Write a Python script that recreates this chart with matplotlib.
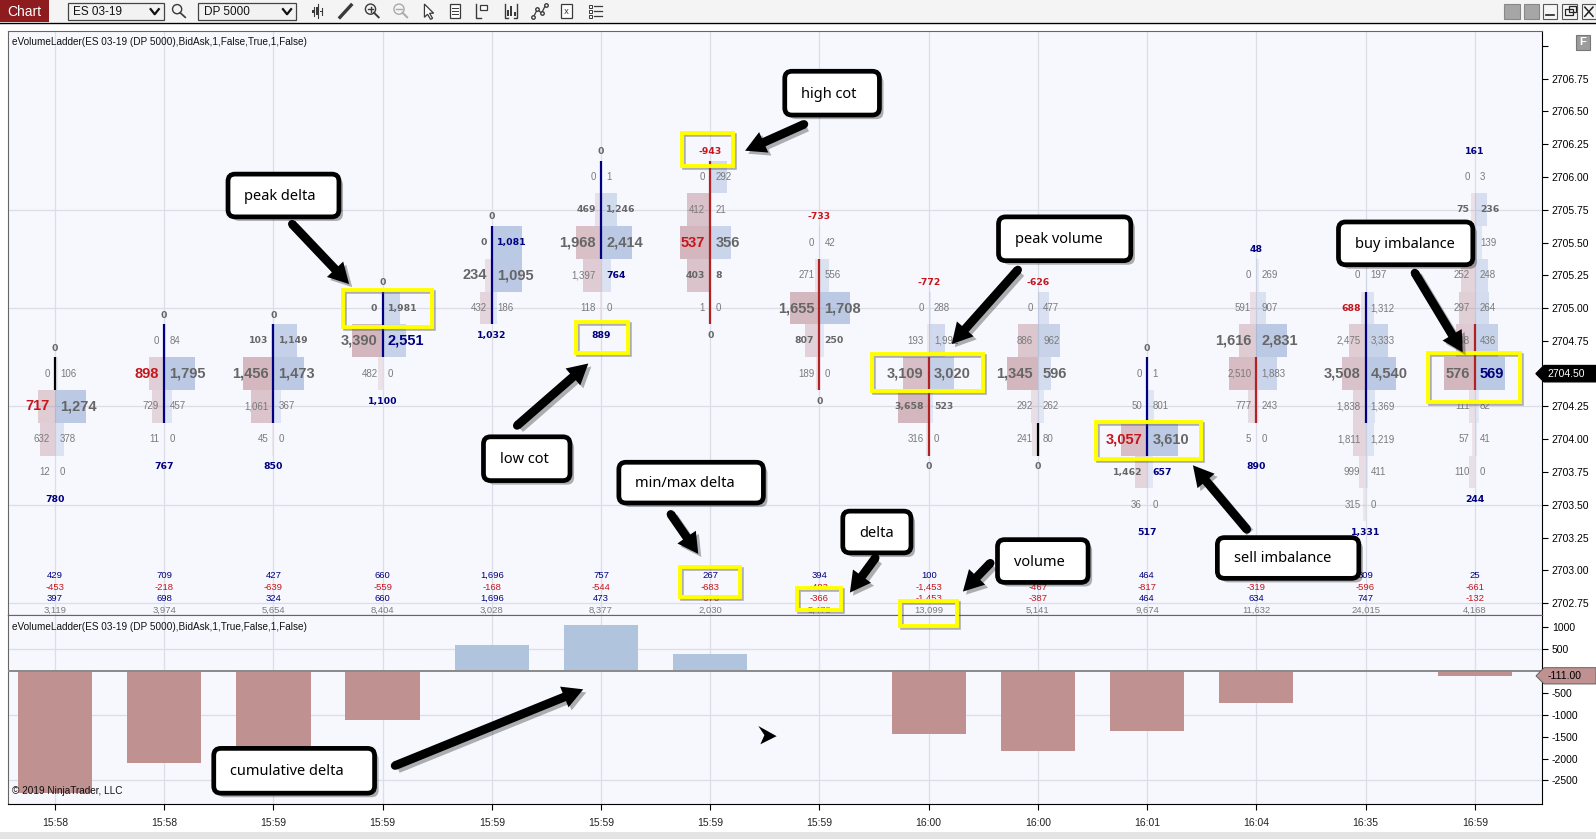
import matplotlib
matplotlib.use('Agg')
import matplotlib.pyplot as plt
import matplotlib.transforms as mtransforms
from matplotlib.patches import Rectangle, FancyBboxPatch, FancyArrowPatch, Polygon, Circle
import numpy as np

# layout grid of the screenshot (pixels)
W, H = 1568, 824

# ---------------- data ----------------
times = ['15:58', '15:58', '15:59', '15:59', '15:59', '15:59', '15:59',
         '15:59', '16:00', '16:00', '16:01', '16:04', '16:35', '16:59']
top_price = [2704.50, 2704.75, 2704.75, 2705.00, 2705.50, 2706.00, 2706.00,
             2705.50, 2705.00, 2705.00, 2704.50, 2705.25, 2705.25, 2706.00]
bids = [
    [0, 717, 632, 12],
    [0, 898, 729, 11],
    [103, 1456, 1061, 45],
    [0, 3390, 482],
    [0, 234, 432],
    [0, 469, 1968, 1397, 118],
    [0, 412, 537, 403, 1],
    [0, 271, 1655, 807, 189],
    [0, 193, 3109, 3658, 316],
    [0, 886, 1345, 292, 241],
    [0, 50, 3057, 1462, 36],
    [0, 591, 1616, 2510, 777, 5],
    [0, 688, 2475, 3508, 1838, 1811, 999, 315],
    [0, 75, 324, 252, 297, 348, 576, 111, 57, 110],
]
asks = [
    [106, 1274, 378, 0],
    [84, 1795, 457, 0],
    [1149, 1473, 367, 0],
    [1981, 2551, 0],
    [1081, 1095, 186],
    [1, 1246, 2414, 764, 0],
    [292, 21, 356, 8, 0],
    [42, 556, 1708, 250, 0],
    [288, 1992, 3020, 523, 0],
    [477, 962, 596, 262, 80],
    [1, 801, 3610, 657, 0],
    [269, 907, 2831, 1883, 243, 0],
    [197, 1312, 3333, 4540, 1369, 1219, 411, 0],
    [3, 236, 139, 248, 264, 436, 569, 82, 41, 0],
]
opens = [2704.50, 2704.25, 2704.25, 2704.75, 2705.00, 2705.50, 2706.00,
         2705.25, 2704.50, 2704.00, 2704.00, 2704.50, 2704.25, 2704.75]
closes = [2704.50, 2704.75, 2704.75, 2705.00, 2705.50, 2706.00, 2705.00,
          2704.50, 2704.00, 2704.00, 2704.50, 2704.25, 2705.00, 2704.50]
# None = hidden behind a callout in the reference
top_label = [0, 0, 0, 0, 0, 0, -943, -733, -772, -626, 0, 48, None, 161]
bottom_label = [780, 767, 850, 1100, 1032, 889, 0, 0, 0, 0, 517, 890, 1331, 244]

max_delta = [429, 709, 427, 660, 1696, 757, 267, 394, 100, 12, 464, 702, 809, 25]
min_delta = [-453, -218, -639, -559, -168, -544, -683, -483, -1453, -467, -817, -319, -596, -661]
bar_delta = [397, 698, 324, 660, 1696, 473, -676, -366, -1453, -387, 464, 634, 747, -132]
volume = [3119, 3974, 5654, 8404, 3028, 8377, 2030, 5478, 13099, 5141, 9674, 11632, 24015, 4168]

cum_delta = [-2793, -2095, -1771, -1111, 585, 1058, 382, 16, -1437, -1824, -1360, -726, 21, -111]

# cells highlighted in the ladder (column, row)
bid_red = {(0, 1), (1, 1), (6, 2), (10, 2), (12, 1)}
ask_blue = {(3, 1), (4, 0), (5, 3), (10, 3), (13, 6)}
bid_bold = {(2, 0), (3, 0), (4, 0), (5, 1), (6, 3), (7, 3), (8, 3), (10, 3), (12, 1), (13, 1)}
ask_bold = {(2, 0), (3, 0), (4, 0), (5, 1), (6, 3), (7, 3), (8, 3), (10, 3), (13, 1), (5, 3)}

# ---------------- style ----------------
TICK = 0.25
BG = '#f7f8fe'
GRID = '#dcdde7'
RED = '#c4161c'
NAVY = '#000080'
GRAY = '#666666'
LGRAY = '#7a7a7a'
BID_BAR = '#a8646e'
ASK_BAR = '#6f8fc4'
MAXW = 0.28
GAP = 0.047

fig = plt.figure(figsize=(15.96, 8.39), dpi=100)
fig.patch.set_facecolor('white')


def frac(x0, y0, x1, y1):
    return [x0 / W, 1 - y1 / H, (x1 - x0) / W, (y1 - y0) / H]


ax = fig.add_axes(frac(8, 30, 1515, 604))
ax2 = fig.add_axes(frac(8, 604, 1515, 790))
n = len(times)
xl = ((8 - 54) / 107.3, (1515 - 54) / 107.3)

for a in (ax, ax2):
    a.set_facecolor(BG)
    a.set_xlim(*xl)
    for c in range(n):
        a.axvline(c, color=GRID, lw=0.9, zorder=0)
    for s in ('left', 'top'):
        a.spines[s].set_color('#666666')
    for s in ('right', 'bottom'):
        a.spines[s].set_color('black')

# ---------------- price panel ----------------
ax.set_ylim(2702.66, 2707.116)
for g in [2702.75, 2703.50, 2704.25, 2705.00, 2705.75]:
    ax.axhline(g, color=GRID, lw=0.9, zorder=0)

yt = np.arange(2702.75, 2707.01, 0.25)
ax.set_yticks(yt)
ax.set_yticklabels(['' if (abs(v - 2707.0) < 1e-6 or abs(v - closes[-1]) < 1e-6) else f'{v:.2f}' for v in yt],
                   family='Liberation Sans', fontsize=7.5)
ax.yaxis.tick_right()
ax.tick_params(axis='y', direction='out', length=4, pad=3, color='black')
ax.tick_params(axis='x', bottom=False, labelbottom=False)


def txt_style(c, r, side, poc):
    if side == 'bid':
        color = RED if (c, r) in bid_red else GRAY
        bold = (c, r) in bid_bold
    else:
        color = NAVY if (c, r) in ask_blue else GRAY
        bold = (c, r) in ask_bold
    if r == poc:
        return dict(family='Liberation Sans', fontsize=10.5, fontweight='bold', color=color)
    if bold or color != GRAY:
        return dict(family='DejaVu Sans', fontsize=6.7, fontweight='bold', color=color)
    return dict(family='Liberation Sans', fontsize=7, color=LGRAY)


def lab_color(v):
    return NAVY if v > 0 else (RED if v < 0 else GRAY)


lab_font = dict(family='DejaVu Sans', fontsize=6.7, fontweight='bold')

for c in range(n):
    bc, ac = bids[c], asks[c]
    vmax = max(max(bc), max(ac))
    poc = int(np.argmax([b + a for b, a in zip(bc, ac)]))
    for r in range(len(bc)):
        p = top_price[c] - TICK * r
        b, a = bc[r], ac[r]
        if b:
            ax.barh(p, -MAXW * b / vmax, left=c, height=TICK, color=BID_BAR,
                    alpha=0.10 + 0.34 * b / vmax, lw=0, zorder=1)
        if a:
            ax.barh(p, MAXW * a / vmax, left=c, height=TICK, color=ASK_BAR,
                    alpha=0.10 + 0.34 * a / vmax, lw=0, zorder=1)
        ax.text(c - GAP, p, f'{b:,}', ha='right', va='center', zorder=4, **txt_style(c, r, 'bid', poc))
        ax.text(c + GAP, p, f'{a:,}', ha='left', va='center', zorder=4, **txt_style(c, r, 'ask', poc))
    # open/close body line
    hi, lo = max(opens[c], closes[c]), min(opens[c], closes[c])
    lc = NAVY if closes[c] > opens[c] else ('#b22222' if closes[c] < opens[c] else 'black')
    ax.plot([c, c], [hi + TICK / 2, lo - TICK / 2], color=lc, lw=1.6, zorder=3, solid_capstyle='butt')
    # labels above / below the ladder
    low_p = top_price[c] - TICK * (len(bc) - 1)
    if top_label[c] is not None:
        ax.text(c, top_price[c] + 0.195, f'{top_label[c]:,}', ha='center', va='center',
                color=lab_color(top_label[c]), zorder=4, **lab_font)
    ax.text(c, low_p - 0.21, f'{bottom_label[c]:,}', ha='center', va='center',
            color=lab_color(bottom_label[c]), zorder=4, **lab_font)

# statistics rows at the bottom of the price panel
tr = mtransforms.blended_transform_factory(ax.transData, ax.transAxes)
stat_font = dict(family='Liberation Sans', fontsize=6.8, ha='center', va='center', zorder=4)
for c in range(n):
    ax.text(c, 0.0679, f'{max_delta[c]:,}', transform=tr, color=NAVY, **stat_font)
    ax.text(c, 0.0470, f'{min_delta[c]:,}', transform=tr, color=RED, **stat_font)
    ax.text(c, 0.0279, f'{bar_delta[c]:,}', transform=tr,
            color=NAVY if bar_delta[c] >= 0 else RED, **stat_font)
    ax.text(c, 0.0087, f'{volume[c]:,}', transform=tr, color=LGRAY, **stat_font)

# last price marker
ty = ax.get_yaxis_transform()
pm = closes[-1]
hh = 8 / 32.2 * TICK
ax.add_patch(Polygon([(0.99602, pm), (1.0013, pm + hh), (1.0352, pm + hh), (1.0352, pm - hh), (1.0013, pm - hh)],
                     closed=True, transform=ty, clip_on=False, fc='black', ec='black', zorder=6))
ax.text(1.0036, pm, f'{pm:.2f}', transform=ty, color='white', family='Liberation Sans', fontsize=7.5,
        va='center', ha='left', zorder=7, clip_on=False)

# ---------------- cumulative delta panel ----------------
ax2.set_ylim(-3047, 1279)
for g in [500, -1000, -2500]:
    ax2.axhline(g, color=GRID, lw=0.9, zorder=0)
ax2.bar(range(n), cum_delta, width=0.68, color=['#bf9191' if v < 0 else '#b0c4de' for v in cum_delta],
        lw=0, zorder=2)
ax2.axhline(0, color='#8a8a8a', lw=1.4, zorder=3)
ax2.set_yticks([1000, 500, -500, -1000, -1500, -2000, -2500])
ax2.set_yticklabels(['1000', '500', '-500', '-1000', '-1500', '-2000', '-2500'],
                    family='Liberation Sans', fontsize=7.5)
ax2.yaxis.tick_right()
ax2.tick_params(axis='y', direction='out', length=4, pad=3)
ax2.set_xticks(range(n))
ax2.set_xticklabels(times, family='Liberation Sans', fontsize=7.5, color='#222222')
ax2.tick_params(axis='x', direction='out', length=4, pad=6)

ty2 = ax2.get_yaxis_transform()
cm = cum_delta[-1]
hh2 = 8 / 21.5 * 500
ax2.add_patch(Polygon([(0.99602, cm), (1.0013, cm + hh2), (1.0352, cm + hh2), (1.0352, cm - hh2), (1.0013, cm - hh2)],
                      closed=True, transform=ty2, clip_on=False, fc='#bf9191', ec='#555555', lw=0.6, zorder=6))
ax2.text(1.0036, cm, f'{cm:.2f}', transform=ty2, color='black', family='Liberation Sans', fontsize=7.5,
         va='center', ha='left', zorder=7, clip_on=False)

# ---------------- overlay: window chrome and callouts ----------------
ov = fig.add_axes([0, 0, 1, 1], zorder=10)
ov.set_xlim(0, W)
ov.set_ylim(H, 0)
ov.axis('off')

ov.add_patch(Rectangle((0, 0), W, 22, fc='#f4f4f4', ec='none'))
ov.plot([0, W], [22.5, 22.5], color='black', lw=1)
ov.add_patch(Rectangle((0, 0), 48, 22, fc='#8e1c1f', ec='none'))
ov.text(24, 11.5, 'Chart', color='white', family='Liberation Sans', fontsize=10, ha='center', va='center')
for x0, w, label in [(67, 94, 'ES 03-19'), (195, 96, 'DP 5000')]:
    ov.add_patch(Rectangle((x0, 3), w, 17, fc='#f2f2f2', ec='#444444', lw=0.9))
    ov.text(x0 + 5, 11.5, label, family='Liberation Sans', fontsize=8.5, va='center', color='#111111')
    xc = x0 + w - 9
    ov.plot([xc - 4, xc, xc + 4], [9, 14, 9], color='#111111', lw=1.6)
ic = '#3a3a3a'
ov.add_patch(Circle((174, 9), 4.5, fill=False, ec=ic, lw=1))
ov.plot([177, 182], [12.5, 17], color=ic, lw=1.2)
for dx, y0, y1 in [(-4, 7, 16), (0, 4, 18), (4, 8, 15)]:
    ov.plot([312 + dx] * 2, [y0, y1], color=ic, lw=0.8)
    ov.add_patch(Rectangle((312 + dx - 1.3, y0 + 3), 2.6, y1 - y0 - 6, fc=ic, ec='none'))
ov.plot([334, 345], [17, 5], color=ic, lw=2.4)
for xc, col, plus in [(364, ic, True), (392, '#aaaaaa', False)]:
    ov.add_patch(Circle((xc, 9), 5, fill=False, ec=col, lw=1))
    ov.plot([xc + 3.5, xc + 8], [12.5, 17], color=col, lw=1.4)
    ov.plot([xc - 2.5, xc + 2.5], [9, 9], color=col, lw=1)
    if plus:
        ov.plot([xc, xc], [6.5, 11.5], color=col, lw=1)
ov.add_patch(Polygon([(417, 4), (417, 17), (420, 14), (423, 19), (425, 18), (422, 13), (426, 13)],
                     closed=True, fc='white', ec=ic, lw=0.9))
ov.add_patch(Rectangle((442, 4), 10, 14, fc='white', ec=ic, lw=0.9))
for yy in (8, 11, 14):
    ov.plot([444, 450], [yy, yy], color=ic, lw=0.7)
ov.plot([468, 468, 473], [4, 18, 18], color=ic, lw=1)
ov.add_patch(Rectangle((472, 5), 6, 5, fc='white', ec=ic, lw=0.9))
ov.plot([496, 496, 499], [4, 18, 18], color=ic, lw=1)
ov.plot([508, 508, 505], [4, 18, 18], color=ic, lw=1)
for dx, hgt in [(0, 6), (3, 10), (6, 4)]:
    ov.add_patch(Rectangle((498.5 + dx, 16 - hgt), 2, hgt, fc=ic, ec='none'))
ov.plot([524, 528, 532, 536], [17, 9, 13, 5], color=ic, lw=0.9, marker='o', ms=2.5, mfc='white', mec=ic)
ov.add_patch(Rectangle((551, 4), 11, 14, fc='white', ec=ic, lw=0.9))
ov.text(556.5, 11, 'x', fontsize=6, ha='center', va='center', color=ic)
for yy in (6, 11, 16):
    ov.add_patch(Rectangle((579, yy - 1.5), 3, 3, fc='white', ec=ic, lw=0.7))
    ov.plot([584, 591], [yy, yy], color=ic, lw=0.9)

for x0 in (1478, 1497):
    ov.add_patch(Rectangle((x0, 4), 15, 15, fc='#a6a6a6', ec='#888888', lw=0.8))
for x0 in (1516, 1535, 1554):
    ov.add_patch(Rectangle((x0, 4), 14, 15, fc='#f5f5f5', ec='#555555', lw=0.8))
ov.plot([1519, 1527], [15, 15], color='#222222', lw=1.2)
ov.add_patch(Rectangle((1538, 9), 7, 6, fc='none', ec='#222222', lw=0.9))
ov.add_patch(Rectangle((1541, 6), 7, 6, fc='none', ec='#222222', lw=0.9))
ov.plot([1557, 1565], [7, 16], color='#222222', lw=1.1)
ov.plot([1557, 1565], [16, 7], color='#222222', lw=1.1)
ov.add_patch(Rectangle((1548, 34), 14, 15, fc='#9c9c9c', ec='#777777', lw=0.8))
ov.text(1555, 41.5, 'F', color='white', family='Liberation Sans', fontsize=8, fontweight='bold',
        ha='center', va='center')
ov.add_patch(Rectangle((0, 817), W, 7, fc='#e4e4e4', ec='none'))

ov.text(12, 41, 'eVolumeLadder(ES 03-19 (DP 5000),BidAsk,1,False,True,1,False)',
        family='Liberation Sans', fontsize=7.2, va='center', color='#111111')
ov.text(12, 616, 'eVolumeLadder(ES 03-19 (DP 5000),BidAsk,1,True,False,1,False)',
        family='Liberation Sans', fontsize=7.2, va='center', color='#111111')
ov.text(12, 777, '\u00a9 2019 NinjaTrader, LLC', family='Liberation Sans', fontsize=7.2,
        va='center', color='#111111')

# yellow highlight boxes
yellow_boxes = [(337, 285, 424, 321), (566, 316, 617, 347), (670, 131, 720, 163),
                (857, 348, 966, 384), (1077, 414, 1180, 451), (1403, 347, 1493, 395),
                (668, 557, 727, 586), (783, 577, 826, 599), (884, 590, 940, 615)]
for x0, y0, x1, y1 in yellow_boxes:
    ov.add_patch(Rectangle((x0 + 2, y0 + 2), x1 - x0, y1 - y0, fc='none', ec='#555555', lw=2.6, alpha=0.45))
    ov.add_patch(Rectangle((x0, y0), x1 - x0, y1 - y0, fc='none', ec='#ffff00', lw=2.8))


def arrow(x0, y0, x1, y1):
    st = 'simple,head_width=1.15,head_length=1.05,tail_width=0.45'
    ov.add_patch(FancyArrowPatch((x0 + 3, y0 + 3), (x1 + 3, y1 + 3), arrowstyle=st, mutation_scale=14,
                                 color='#000000', alpha=0.3, shrinkA=0, shrinkB=0, lw=0))
    ov.add_patch(FancyArrowPatch((x0, y0), (x1, y1), arrowstyle=st, mutation_scale=14,
                                 color='black', shrinkA=0, shrinkB=0, lw=0))
    ov.add_patch(Circle((x0, y0), 4, fc='black', ec='none'))


def callout(x0, y0, x1, y1, text):
    ov.add_patch(FancyBboxPatch((x0 + 4, y0 + 4), x1 - x0, y1 - y0, boxstyle='round,pad=0,rounding_size=7',
                                fc='black', ec='none', alpha=0.3))
    ov.add_patch(FancyBboxPatch((x0, y0), x1 - x0, y1 - y0, boxstyle='round,pad=0,rounding_size=7',
                                fc='white', ec='black', lw=3.4))
    ov.text(x0 + 16, (y0 + y1) / 2 + 1, text, family='Noto Sans', fontsize=10.5, va='center', ha='left',
            color='black')


callouts = [
    ('peak delta', (224, 171, 333, 213), (287, 220, 343, 279)),
    ('high cot', (771, 70, 864, 113), (790, 122, 732, 148)),
    ('peak volume', (981, 213, 1111, 256), (1000, 265, 935, 338)),
    ('buy imbalance', (1315, 218, 1447, 260), (1390, 268, 1437, 346)),
    ('low cot', (475, 429, 560, 472), (508, 418, 578, 357)),
    ('min/max delta', (608, 454, 750, 494), (659, 505, 686, 544)),
    ('delta', (828, 502, 895, 543), (860, 548, 835, 582)),
    ('volume', (980, 530, 1069, 572), (973, 553, 946, 581)),
    ('sell imbalance', (1196, 528, 1335, 568), (1225, 520, 1172, 457)),
    ('cumulative delta', (210, 735, 368, 779), (388, 752, 573, 677)),
]
for label, box, arr in callouts:
    arrow(*arr)
    callout(*box, label)
ov.add_patch(Polygon([(745, 713), (763, 723), (747, 731), (751, 722)], closed=True, fc='black', ec='none'))

fig.savefig('out.png', dpi=100, facecolor='white')
